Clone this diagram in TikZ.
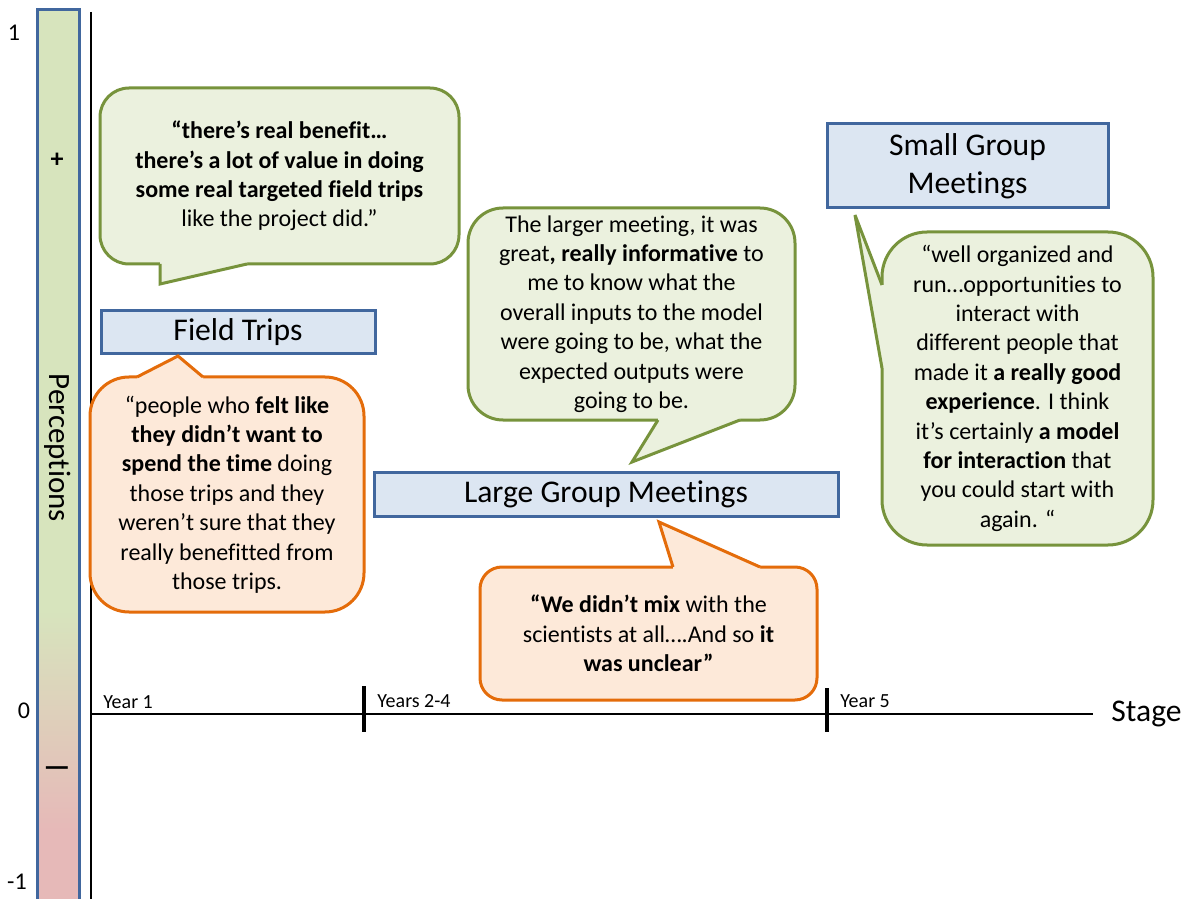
\documentclass[tikz,border=0pt]{standalone}
\usepackage{fontspec}
\setmainfont{Carlito}[Ligatures={NoCommon}]
\usetikzlibrary{positioning,calc}
\definecolor{QuoteGreenFill}{HTML}{EBF1DE}
\definecolor{QuoteGreenLine}{HTML}{77933C}
\definecolor{QuoteOrangeFill}{HTML}{FDE9D9}
\definecolor{QuoteOrangeLine}{HTML}{E46C0A}
\definecolor{StageFill}{HTML}{DCE6F2}
\definecolor{StageLine}{HTML}{41679E}
\definecolor{ScaleGreen}{HTML}{D7E4BD}
\definecolor{ScalePink}{HTML}{E6B9B8}
\tikzset{
  bubble/.style={
    line width=1.5pt,
    align=center,
    inner sep=0pt,
    outer sep=0pt,
    font=\fontsize{12}{14.7}\selectfont
  },
  greenquote/.style={bubble, fill=QuoteGreenFill, draw=QuoteGreenLine},
  orangequote/.style={bubble, fill=QuoteOrangeFill, draw=QuoteOrangeLine},
  tailline/.style={
    draw=#1,
    line width=1.5pt,
    line join=miter
  },
  stagebox/.style={
    fill=StageFill,
    draw=StageLine,
    line width=1.5pt,
    align=center,
    inner sep=0pt,
    outer sep=0pt,
    font=\fontsize{15.8}{19}\selectfont
  },
  axisline/.style={draw=black, line width=1pt},
  yeartick/.style={draw=black, line width=2pt},
  yearlabel/.style={anchor=west, inner sep=0pt, font=\fontsize{10}{12}\selectfont},
  scalelabel/.style={inner sep=0pt, font=\fontsize{12}{14}\selectfont}
}
% tail of a speech bubble: colour prefix, base point, tip, base point, inward offset
\newcommand{\speechtail}[5]{%
  \fill[#1Fill] ($(#2)+(#5)$) -- (#2) -- (#3) -- (#4) -- ($(#4)+(#5)$) -- cycle;
  \draw[tailline=#1Line] (#2) -- (#3) -- (#4);
}

\begin{document}
\begin{tikzpicture}[x=0.5pt,y=-0.5pt]
\useasboundingbox (0,0) rectangle (1191,899);

% Perception scale bar on the left.
\fill[ScaleGreen] (37,10) rectangle (79,610);
\shade[top color=ScaleGreen, bottom color=ScalePink] (37,610) rectangle (79,830);
\fill[ScalePink] (37,830) rectangle (79,905);
\draw[StageLine, line width=1.5pt] (37,905) -- (37,10) -- (79,10) -- (79,905);

\node[font=\fontsize{13}{15}\selectfont\bfseries] (plus) at (57,160) {+};
\node[font=\fontsize{15}{17}\selectfont\bfseries] (minus) at (57,772) {—};
\node[rotate=-90, font=\fontsize{15.5}{18}\selectfont] (perceptions) at (58,448) {Perceptions};

\node[scalelabel] (top) at (14,33) {1};
\node[scalelabel] (zero) at (24,711) {0};
\node[scalelabel] (bottom) at (17,882) {-1};

% Axes and stages.
\coordinate (origin) at (91,714);
\coordinate (axisend) at (1093,714);
\draw[axisline] (91,12) -- (91,899);
\draw[axisline] (origin) -- (axisend);
\node[right=9pt of axisend, inner sep=0pt, font=\fontsize{15.8}{19}\selectfont] (stage) {Stage};

\draw[yeartick] (364,686) -- (364,732);
\draw[yeartick] (827,688) -- (827,732);
\node[yearlabel] (yearone) at (103,702) {Year 1};
\node[yearlabel] (yeartwo) at (377,701) {Years 2-4};
\node[yearlabel] (yearfive) at (840,701) {Year 5};

% Activity boxes.
\node[stagebox, minimum width=137pt, minimum height=21.5pt] (fieldtrips) at (238,332.5) {Field Trips};
\node[stagebox, minimum width=232pt, minimum height=22pt] (largemeet) at (606,494) {Large Group Meetings};
\node[stagebox, minimum width=140.5pt, minimum height=42pt] (smallmeet) at (967.5,166) {Small Group\\Meetings};

% Quotes.
\node[greenquote, rounded corners=14.5pt, minimum width=179.5pt, minimum height=88pt] (benefit) at (279.5,176) {%
  \textbf{“there’s real benefit…}\\
  \textbf{there’s a lot of value in doing}\\
  \textbf{some real targeted field trips}\\
  like the project did.”};

\node[orangequote, rounded corners=19.5pt, minimum width=137pt, minimum height=117.5pt] (tripdoubt) at (227,494.5) {%
  “people who \textbf{felt like}\\
  \textbf{they didn’t want to}\\
  \textbf{spend the time} doing\\
  those trips and they\\
  weren’t sure that they\\
  really benefitted from\\
  those trips.};

\node[greenquote, rounded corners=17.5pt, minimum width=163.5pt, minimum height=106pt] (informative) at (631.5,314) {%
  The larger meeting, it was\\
  great\textbf{, really informative} to\\
  me to know what the\\
  overall inputs to the model\\
  were going to be, what the\\
  expected outputs were\\
  going to be.};

\node[orangequote, rounded corners=11pt, minimum width=168.5pt, minimum height=66.5pt] (unclear) at (648.5,633.5) {%
  \textbf{“We didn’t mix} with the\\
  scientists at all….And so \textbf{it}\\
  \textbf{was unclear”}};

\node[greenquote, rounded corners=22.5pt, minimum width=135.5pt, minimum height=156.5pt] (interaction) at (1017.5,388.5) {%
  “well organized and\\
  run…opportunities to\\
  interact with\\
  different people that\\
  made it \textbf{a really good}\\
  \textbf{experience}. I think\\
  it’s certainly \textbf{a model}\\
  \textbf{for interaction} that\\
  you could start with\\
  again. “};

% Bubble tails pointing at the activity boxes.
\coordinate (benefitA) at ($(benefit.south west)+(60,0)$);
\coordinate (benefitB) at ($(benefit.south west)+(147,0)$);
\coordinate (benefitTip) at ($(fieldtrips.north west)+(59,-27)$);
\speechtail{QuoteGreen}{benefitA}{benefitTip}{benefitB}{0,-4}

\coordinate (tripdoubtA) at ($(tripdoubt.north west)+(47,0)$);
\coordinate (tripdoubtB) at ($(tripdoubt.north west)+(113,0)$);
\coordinate (tripdoubtTip) at ($(fieldtrips.south west)+(77,2)$);
\speechtail{QuoteOrange}{tripdoubtA}{tripdoubtTip}{tripdoubtB}{0,4}

\coordinate (informativeA) at ($(informative.south west)+(190,0)$);
\coordinate (informativeB) at ($(informative.south west)+(272,0)$);
\coordinate (informativeTip) at ($(largemeet.north west)+(258,-10)$);
\speechtail{QuoteGreen}{informativeA}{informativeTip}{informativeB}{0,-4}

\coordinate (unclearA) at ($(unclear.north west)+(193,0)$);
\coordinate (unclearB) at ($(unclear.north west)+(280,0)$);
\coordinate (unclearTip) at ($(largemeet.south west)+(285,6)$);
\speechtail{QuoteOrange}{unclearA}{unclearTip}{unclearB}{0,4}

\coordinate (interactionA) at ($(interaction.north west)+(0,53)$);
\coordinate (interactionB) at ($(interaction.north west)+(0,136)$);
\coordinate (interactionTip) at ($(smallmeet.south west)+(28,7)$);
\speechtail{QuoteGreen}{interactionA}{interactionTip}{interactionB}{4,0}

\end{tikzpicture}
\end{document}
